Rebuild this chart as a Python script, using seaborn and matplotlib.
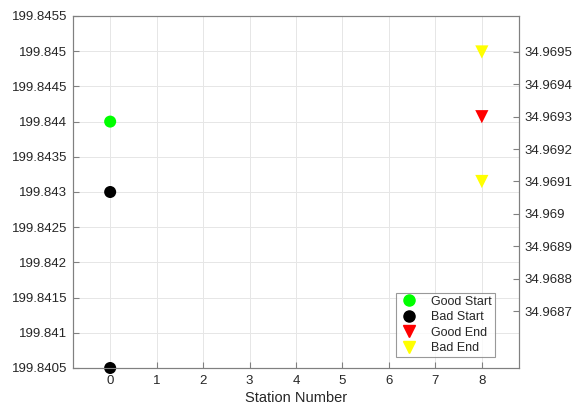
import numpy as np
import pandas as pd
import matplotlib
matplotlib.use("Agg")
import matplotlib.pyplot as plt
from matplotlib.ticker import FuncFormatter
import seaborn as sns

# data
good_start_x = [0]
good_start_y = [199.844]
bad_start_x = [0, 0]
bad_start_y = [199.843, 199.8405]
good_end_x = [8]
good_end_y = [34.9693]
bad_end_x = [8, 8]
bad_end_y = [34.9695, 34.9691]
station_ticks = list(range(0, 9))

sns.set_style("white")
plt.rcParams['font.family'] = ['Liberation Sans', 'DejaVu Sans']
plt.rcParams['font.size'] = 9.5
plt.rcParams['xtick.direction'] = 'in'
plt.rcParams['ytick.direction'] = 'in'

fig = plt.figure(figsize=(5.82, 4.12), dpi=100)
ax = fig.add_axes([73 / 582, 1 - 368 / 412, (519 - 73) / 582, (368 - 16) / 412])
ax2 = ax.twinx()

start_df = pd.concat([
    pd.DataFrame({"x": good_start_x, "y": good_start_y, "kind": "Good Start"}),
    pd.DataFrame({"x": bad_start_x, "y": bad_start_y, "kind": "Bad Start"}),
])
end_df = pd.concat([
    pd.DataFrame({"x": good_end_x, "y": good_end_y, "kind": "Good End"}),
    pd.DataFrame({"x": bad_end_x, "y": bad_end_y, "kind": "Bad End"}),
])

sns.scatterplot(data=start_df, x="x", y="y", hue="kind",
                palette={"Good Start": "#00ff00", "Bad Start": "black"},
                marker="o", s=75, edgecolor="none", ax=ax, legend=False,
                clip_on=False, zorder=5)
sns.scatterplot(data=end_df, x="x", y="y", hue="kind",
                palette={"Good End": "red", "Bad End": "yellow"},
                marker="v", s=90, edgecolor="none", ax=ax2, legend=False,
                clip_on=False, zorder=5)

ax.set_xlim(-0.8, 8.8)
ax.set_ylim(199.8405, 199.8455)
ax.set_yticks(np.round(np.arange(199.8405, 199.84551, 0.0005), 4))
ax.set_xticks(station_ticks)
ax2.set_ylim(34.968524, 34.969611)
ax2.set_yticks(np.round(np.arange(34.9687, 34.96951, 0.0001), 4))

fmt = FuncFormatter(lambda v, p: ("%.4f" % v).rstrip("0").rstrip("."))
ax.yaxis.set_major_formatter(fmt)
ax2.yaxis.set_major_formatter(fmt)

ax.set_xlabel("Station Number", fontsize=10.5, color="#262626", labelpad=3)
ax.set_ylabel("")
ax2.set_ylabel("")

ax.grid(True, color="#e6e6e6", linewidth=0.7)
ax.set_axisbelow(True)
for a in (ax, ax2):
    for s in a.spines.values():
        s.set_color("#808080")
        s.set_linewidth(0.8)
    a.tick_params(direction="in", length=4, width=0.8, color="#808080",
                  labelcolor="#262626", labelsize=9.5)
ax.tick_params(axis="y", left=True, right=False, pad=4)
ax.tick_params(axis="x", bottom=True, top=False, pad=5)
ax2.tick_params(axis="y", left=False, right=True, pad=4)

handles = [
    plt.Line2D([], [], marker="o", color="#00ff00", linestyle="none", markersize=8),
    plt.Line2D([], [], marker="o", color="black", linestyle="none", markersize=8),
    plt.Line2D([], [], marker="v", color="red", linestyle="none", markersize=9),
    plt.Line2D([], [], marker="v", color="yellow", linestyle="none", markersize=9),
]
labels = ["Good Start", "Bad Start", "Good End", "Bad End"]
leg = ax2.legend(handles, labels, loc="lower right", bbox_to_anchor=(0.947, 0.03),
                 frameon=True, fancybox=False, fontsize=9, handletextpad=1.0,
                 borderpad=0.25, labelspacing=0.28, handlelength=1.6,
                 borderaxespad=0)
leg.get_frame().set_edgecolor("#808080")
leg.get_frame().set_linewidth(0.8)

fig.savefig("out.png", dpi=100)
